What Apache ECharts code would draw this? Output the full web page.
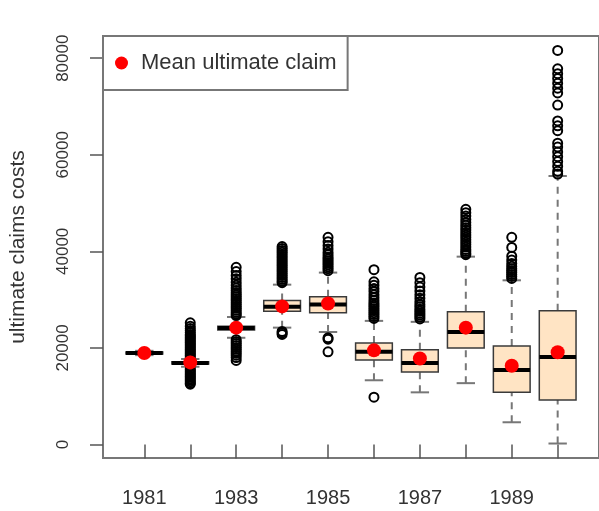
<!DOCTYPE html>
<html><head><meta charset="utf-8">
<script src="https://cdn.jsdelivr.net/npm/echarts@6/dist/echarts.min.js"></script>
<style>html,body{margin:0;padding:0;background:#fff}#c{width:599px;height:511px}</style>
</head><body><div id="c"></div>
<script>
const years = ['1981','1982','1983','1984','1985','1986','1987','1988','1989','1990'];
const whiskerLow  = [18500, 16100, 22100, 24200, 23300, 13300, 10800, 12700,  4600,   200];
const q1          = [18750, 16650, 23700, 27600, 27300, 17500, 15000, 20000, 10800,  9200];
const median      = [18950, 16900, 24100, 28500, 29000, 19200, 16900, 23300, 15400, 18100];
const q3          = [19150, 17150, 24500, 29800, 30600, 21000, 19600, 27500, 20400, 27700];
const whiskerHigh = [19400, 17700, 26400, 33100, 35600, 25600, 25400, 38900, 34000, 55600];
const means       = [18950, 17000, 24200, 28600, 29200, 19500, 17800, 24200, 16300, 19100];
const outliers = [
  [],
  [25200, 24500, 24000, 23600, 23200, 22800, 22500, 22200, 21900, 21600, 21300, 21000, 20700, 20400, 20100, 19800, 19500, 19200, 18900, 18600, 18300, 18000, 15700, 15400, 15100, 14800, 14500, 14200, 13900, 13600, 13300, 13000, 12700, 12500],
  [36700, 35800, 35000, 34300, 33600, 33000, 32400, 31900, 31400, 31000, 30600, 30200, 29800, 29400, 29000, 28600, 28200, 27800, 27400, 27000, 26700, 21700, 21300, 20900, 20500, 20100, 19700, 19300, 18900, 18500, 18000, 17400],
  [41000, 40600, 40200, 39800, 39400, 39000, 38600, 38200, 37800, 37400, 37000, 36600, 36200, 35800, 35400, 35000, 34600, 34200, 33800, 33500, 23400, 23100, 22800],
  [42900, 42000, 41200, 40500, 39800, 39300, 38800, 38400, 38000, 37600, 37200, 36800, 36400, 36000, 22100, 21800, 19200],
  [36200, 33700, 33000, 32300, 31700, 31000, 30400, 29800, 29300, 28900, 28500, 28100, 27700, 27300, 26900, 26500, 26100, 9800],
  [34600, 33500, 32600, 31800, 31000, 30300, 29600, 29000, 28500, 28000, 27600, 27200, 26800, 26400, 26000],
  [48700, 48000, 47300, 46600, 46000, 45400, 44900, 44400, 43900, 43400, 42900, 42400, 41900, 41400, 40900, 40400, 40000, 39600, 39300],
  [42900, 40800, 39000, 38200, 37500, 36900, 36400, 36000, 35600, 35200, 34800, 34400],
  [81600, 77800, 76800, 75800, 74800, 73800, 72800, 70300, 67000, 66000, 65000, 62400, 61600, 60600, 59600, 58600, 57600, 56600, 56000]
];
const yTicks = [0, 20000, 40000, 60000, 80000];
const xTickPositions = [1,2,3,4,5,6,7,8,9,10];
const xLabelPositions = [1,3,5,7,9];
const legendLabel = 'Mean ultimate claim';
const yTitle = 'ultimate claims costs';

const boxData = years.map((y, i) => [i + 1, whiskerLow[i], q1[i], median[i], q3[i], whiskerHigh[i]]);
const outlierData = [];
outliers.forEach((arr, i) => arr.forEach(v => outlierData.push([i + 1, v])));
const meanData = means.map((v, i) => [i + 1, v]);

function renderBox(params, api) {
  const x = api.value(0);
  const lo = api.coord([x, api.value(1)]);
  const a = api.coord([x, api.value(2)]);
  const m = api.coord([x, api.value(3)]);
  const b = api.coord([x, api.value(4)]);
  const hi = api.coord([x, api.value(5)]);
  const w = api.size([0.8, 0])[0];
  const cx = lo[0];
  const half = w / 2, capHalf = w / 4;
  const wStyle = {stroke: '#777', lineWidth: 2, lineDash: [7, 6]};
  const cStyle = {stroke: '#777', lineWidth: 2};
  return {type: 'group', children: [
    {type: 'line', shape: {x1: cx, y1: b[1], x2: cx, y2: hi[1]}, style: wStyle},
    {type: 'line', shape: {x1: cx, y1: lo[1], x2: cx, y2: a[1]}, style: wStyle},
    {type: 'line', shape: {x1: cx - capHalf, y1: hi[1], x2: cx + capHalf, y2: hi[1]}, style: cStyle},
    {type: 'line', shape: {x1: cx - capHalf, y1: lo[1], x2: cx + capHalf, y2: lo[1]}, style: cStyle},
    {type: 'rect', shape: {x: cx - half, y: b[1], width: w, height: a[1] - b[1]}, style: {fill: '#FFE4C4', stroke: '#3a3a3a', lineWidth: 1.5}},
    {type: 'line', shape: {x1: cx - half, y1: m[1], x2: cx + half, y2: m[1]}, style: {stroke: '#000', lineWidth: 4}}
  ]};
}

const chart = echarts.init(document.getElementById('c'), null, {renderer: 'canvas'});
chart.setOption({
  animation: false,
  backgroundColor: '#fff',
  textStyle: {fontFamily: 'Liberation Sans, Arial, sans-serif', color: '#333'},
  grid: {left: 103, right: -6, top: 36, bottom: 53, show: true, borderColor: '#777', borderWidth: 2, backgroundColor: 'transparent'},
  legend: {
    data: [legendLabel], left: 103, top: 36, orient: 'horizontal',
    icon: 'circle', itemWidth: 13, itemHeight: 13,
    padding: [16, 11, 16, 12],
    borderColor: '#777', borderWidth: 2, backgroundColor: '#fff',
    itemStyle: {opacity: 1},
    textStyle: {fontSize: 22, color: '#333', fontFamily: 'Liberation Sans, Arial, sans-serif', padding: [0, 0, 0, 8]}
  },
  xAxis: {
    type: 'value', min: 0.1, max: 10.9,
    axisLine: {show: false},
    splitLine: {show: false},
    axisTick: {show: true, customValues: xTickPositions, length: 14, lineStyle: {color: '#555', width: 1.5}},
    axisLabel: {customValues: xLabelPositions, margin: 30, fontSize: 20, color: '#333',
      formatter: v => years[Math.round(v) - 1]}
  },
  yAxis: {
    type: 'value', min: -2800, max: 84600,
    name: yTitle, nameLocation: 'middle', nameRotate: 90, nameGap: 74,
    nameTextStyle: {fontSize: 21, color: '#333'},
    axisLine: {show: false},
    splitLine: {show: false},
    axisTick: {show: true, customValues: yTicks, length: 13, lineStyle: {color: '#555', width: 1.5}},
    axisLabel: {customValues: yTicks, rotate: 90, margin: 31, fontSize: 17, color: '#333',
      formatter: v => String(v)}
  },
  series: [
    {type: 'custom', name: 'box', renderItem: renderBox, data: boxData, z: 2, encode: {x: 0, y: [1, 5]}},
    {type: 'scatter', name: 'outliers', data: outlierData, symbol: 'circle', symbolSize: 9, z: 3,
      itemStyle: {color: 'rgba(0,0,0,0)', borderColor: '#000', borderWidth: 2, opacity: 1}},
    {type: 'scatter', name: legendLabel, data: meanData, symbol: 'circle', symbolSize: 14, z: 4,
      itemStyle: {color: '#ff0000', opacity: 1}}
  ]
});
</script>
</body></html>
